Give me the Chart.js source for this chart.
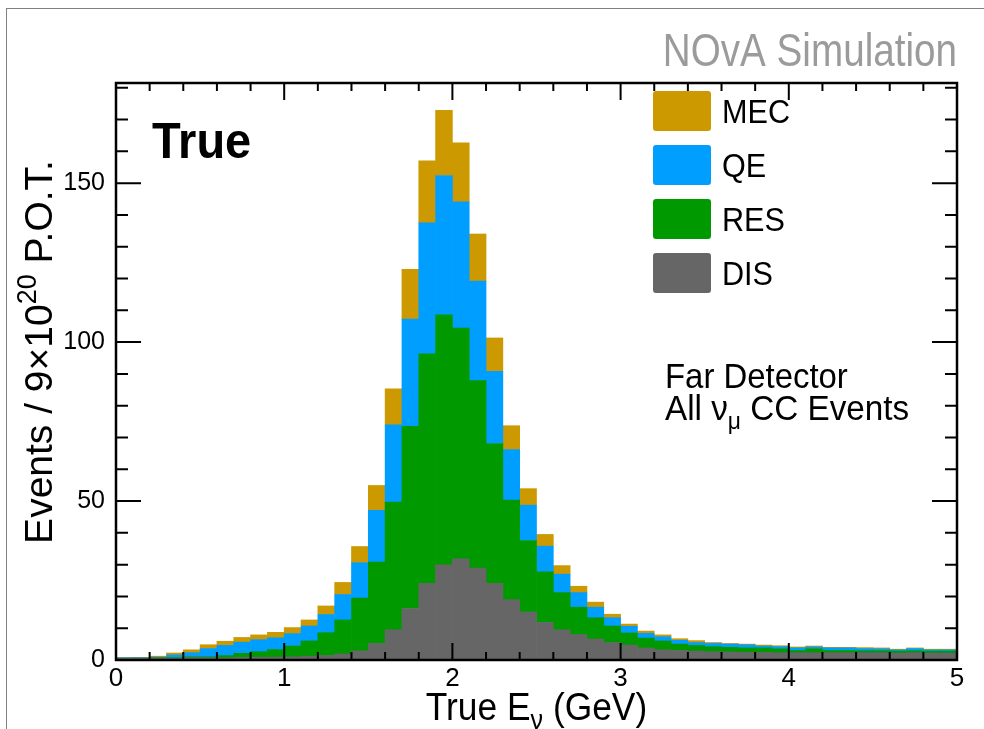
<!DOCTYPE html>
<html>
<head>
<meta charset="utf-8">
<script src="https://cdn.jsdelivr.net/npm/chart.js@4.4.1/dist/chart.umd.min.js"></script>
<style>
    html, body { margin: 0; padding: 0; background: #fff; }
    #wrap { position: relative; width: 984px; height: 729px; overflow: hidden; }
    #frame { position: absolute; left: 6px; top: 8px; width: 1000px; height: 760px;
             border-top: 1px solid #808080; border-left: 1px solid #808080; }
    canvas { position: absolute; left: 0; top: 0; }
</style>
</head>
<body>
<div id="wrap">
    <div id="frame"></div>
    <canvas id="chartTrueE" width="984" height="729"></canvas>
</div>
<script>
// Bins: 50 bins of 0.1 GeV between 0 and 5 GeV (bin centres used as x values)
const binCenters = Array.from({ length: 50 }, (_, i) => +(0.05 + 0.1 * i).toFixed(2));

// Events per bin for each interaction mode (stack order: DIS at the bottom, MEC on top)
const disEvents = [0.6, 0.6, 0.6, 0.6, 0.7, 0.7, 0.7, 0.8, 0.9, 0.9,
    1.0, 1.2, 1.4, 1.9, 2.9, 5.2, 9.5, 16.2, 24.1, 29.9,
    31.8, 28.9, 24.1, 19.0, 15.1, 11.8, 9.5, 8.0, 6.6, 5.5,
    4.7, 3.8, 3.2, 3.0, 2.8, 2.6, 2.5, 2.4, 2.4, 2.3,
    2.3, 2.3, 2.3, 2.3, 2.3, 2.3, 2.2, 2.3, 2.2, 2.2];
const resEvents = [0.0, 0.0, 0.1, 0.2, 0.3, 0.3, 0.7, 1.3, 1.7, 2.4,
    3.4, 4.8, 7.2, 10.7, 16.6, 25.6, 40.2, 57.3, 72.2, 78.7,
    72.6, 59.0, 44.0, 31.3, 22.5, 15.9, 11.7, 8.6, 6.7, 5.2,
    3.8, 3.1, 2.8, 2.0, 1.8, 1.6, 1.5, 1.4, 1.4, 1.2,
    0.7, 1.2, 0.7, 0.7, 0.6, 0.6, 0.6, 0.6, 0.6, 0.6];
const qeEvents = [0.1, 0.1, 0.2, 0.8, 1.3, 2.6, 3.2, 3.5, 3.8, 3.7,
    3.9, 4.7, 5.7, 8.0, 11.1, 16.3, 24.3, 33.7, 41.2, 43.8,
    39.7, 31.3, 22.7, 15.9, 11.1, 8.1, 5.8, 4.6, 3.3, 2.6,
    2.1, 1.5, 1.3, 1.2, 0.9, 1.0, 1.0, 1.0, 0.6, 0.7,
    0.8, 0.6, 0.8, 0.8, 0.7, 0.6, 0.4, 0.7, 0.4, 0.4];
const mecEvents = [0.0, 0.1, 0.3, 0.6, 0.9, 1.2, 1.3, 1.5, 1.5, 1.7,
    1.9, 1.9, 2.7, 3.8, 5.1, 7.8, 11.3, 15.7, 19.5, 20.5,
    18.6, 14.8, 10.5, 7.5, 5.2, 3.7, 2.7, 2.0, 1.6, 1.1,
    0.7, 0.7, 0.6, 0.5, 0.6, 0.3, 0.2, 0.2, 0.3, 0.3,
    0.3, 0.3, 0.2, 0.2, 0.3, 0.3, 0.2, 0.2, 0.2, 0.2];

// Axis ticks
const xTicks = [0, 1, 2, 3, 4, 5];
const yTicks = [0, 50, 100, 150];
const yMax = 181.5;

const FONT = '"Liberation Sans", Arial, Helvetica, sans-serif';

// Draw a run of text pieces (for sub/superscripts), squeezed horizontally by sx
function drawRuns(ctx, runs, x, y, align, sx) {
    ctx.save();
    const widths = runs.map(r => {
        ctx.font = `${r.bold ? 'bold ' : ''}${r.size}px ${FONT}`;
        return ctx.measureText(r.text).width;
    });
    const total = widths.reduce((s, w) => s + w, 0);
    ctx.translate(x, y);
    ctx.scale(sx, 1);
    let cx = align === 'center' ? -total / 2 : align === 'right' ? -total : 0;
    ctx.textAlign = 'left';
    ctx.textBaseline = 'alphabetic';
    runs.forEach((r, i) => {
        ctx.font = `${r.bold ? 'bold ' : ''}${r.size}px ${FONT}`;
        ctx.fillText(r.text, cx, r.dy || 0);
        cx += widths[i];
    });
    ctx.restore();
}

// Inward ticks on all four sides + the frame, ROOT style
const rootFrame = {
    id: 'rootFrame',
    afterDatasetsDraw(chart) {
        const { ctx, chartArea: a, scales: { x, y } } = chart;
        ctx.save();
        ctx.strokeStyle = '#000';
        ctx.lineWidth = 2;
        ctx.beginPath();
        for (let i = 0; i <= 25; i++) {
            const px = x.getPixelForValue(i * 0.2);
            const len = i % 5 === 0 ? 17 : 8;
            ctx.moveTo(px, a.bottom); ctx.lineTo(px, a.bottom - len);
            ctx.moveTo(px, a.top); ctx.lineTo(px, a.top + len);
        }
        for (let v = 0; v <= yMax; v += 10) {
            const py = y.getPixelForValue(v);
            const len = v % 50 === 0 ? 25 : 12;
            ctx.moveTo(a.left, py); ctx.lineTo(a.left + len, py);
            ctx.moveTo(a.right, py); ctx.lineTo(a.right - len, py);
        }
        ctx.stroke();
        ctx.lineWidth = 2.5;
        ctx.strokeRect(a.left, a.top, a.right - a.left, a.bottom - a.top);
        ctx.restore();
    }
};

// Titles, labels and the legend
const annotations = {
    id: 'annotations',
    afterDraw(chart) {
        const { ctx, chartArea: a } = chart;
        ctx.save();

        ctx.fillStyle = '#9b9b9b';
        drawRuns(ctx, [{ text: 'NOvA Simulation', size: 46 }], 957, 66, 'right', 0.84);

        ctx.fillStyle = '#000';
        drawRuns(ctx, [{ text: 'True', size: 50, bold: true }], 152, 158, 'left', 0.94);

        // Legend, top entry = last dataset
        const entries = chart.data.datasets.slice().reverse();
        entries.forEach((ds, i) => {
            const top = 91 + i * 54;
            ctx.fillStyle = ds.backgroundColor;
            ctx.beginPath();
            ctx.roundRect(653, top, 58, 40, 3);
            ctx.fill();
            ctx.fillStyle = '#000';
            drawRuns(ctx, [{ text: ds.label, size: 34 }], 722, top + 32, 'left', 0.9);
        });

        drawRuns(ctx, [{ text: 'Far Detector', size: 35 }], 665, 388, 'left', 0.94);
        drawRuns(ctx, [
            { text: 'All \u03bd', size: 35 },
            { text: '\u03bc', size: 24, dy: 9 },
            { text: ' CC Events', size: 35 }
        ], 665, 420, 'left', 0.95);

        // X axis title
        drawRuns(ctx, [
            { text: 'True E', size: 38 },
            { text: '\u03bd', size: 27, dy: 9 },
            { text: ' (GeV)', size: 38 }
        ], (a.left + a.right) / 2, 720, 'center', 0.93);

        // Y axis title (rotated)
        ctx.save();
        ctx.translate(52, 352);
        ctx.rotate(-Math.PI / 2);
        drawRuns(ctx, [
            { text: 'Events / 9\u00d710', size: 39 },
            { text: '20', size: 27, dy: -16 },
            { text: ' P.O.T.', size: 39 }
        ], 0, 0, 'center', 1.0);
        ctx.restore();

        ctx.restore();
    }
};

const graphArea = document.getElementById('chartTrueE');

new Chart(graphArea, {
    type: 'bar',
    data: {
        labels: binCenters,
        datasets: [
            { label: 'DIS', data: disEvents, backgroundColor: '#666666' },
            { label: 'RES', data: resEvents, backgroundColor: '#009900' },
            { label: 'QE', data: qeEvents, backgroundColor: '#009eff' },
            { label: 'MEC', data: mecEvents, backgroundColor: '#cc9900' }
        ]
    },
    options: {
        responsive: false,
        animation: false,
        layout: { padding: { top: 83, right: 27, left: 0, bottom: 0 } },
        datasets: {
            bar: { barPercentage: 1, categoryPercentage: 1, borderWidth: 0 }
        },
        plugins: {
            legend: { display: false },
            tooltip: { enabled: false }
        },
        scales: {
            x: {
                type: 'linear',
                stacked: true,
                min: 0,
                max: 5,
                offset: false,
                grid: { display: false, drawTicks: false },
                border: { display: false },
                afterBuildTicks: scale => { scale.ticks = xTicks.map(v => ({ value: v })); },
                afterFit: scale => { scale.height = 69; },
                ticks: {
                    color: '#000',
                    padding: 3,
                    maxRotation: 0,
                    autoSkip: false,
                    font: { family: FONT, size: 26 }
                }
            },
            y: {
                stacked: true,
                min: 0,
                max: yMax,
                grid: { display: false, drawTicks: false },
                border: { display: false },
                afterBuildTicks: scale => { scale.ticks = yTicks.map(v => ({ value: v })); },
                afterFit: scale => { scale.width = 116; },
                ticks: {
                    color: '#000',
                    padding: 11,
                    font: { family: FONT, size: 25 }
                }
            }
        }
    },
    plugins: [rootFrame, annotations]
});
</script>
</body>
</html>
